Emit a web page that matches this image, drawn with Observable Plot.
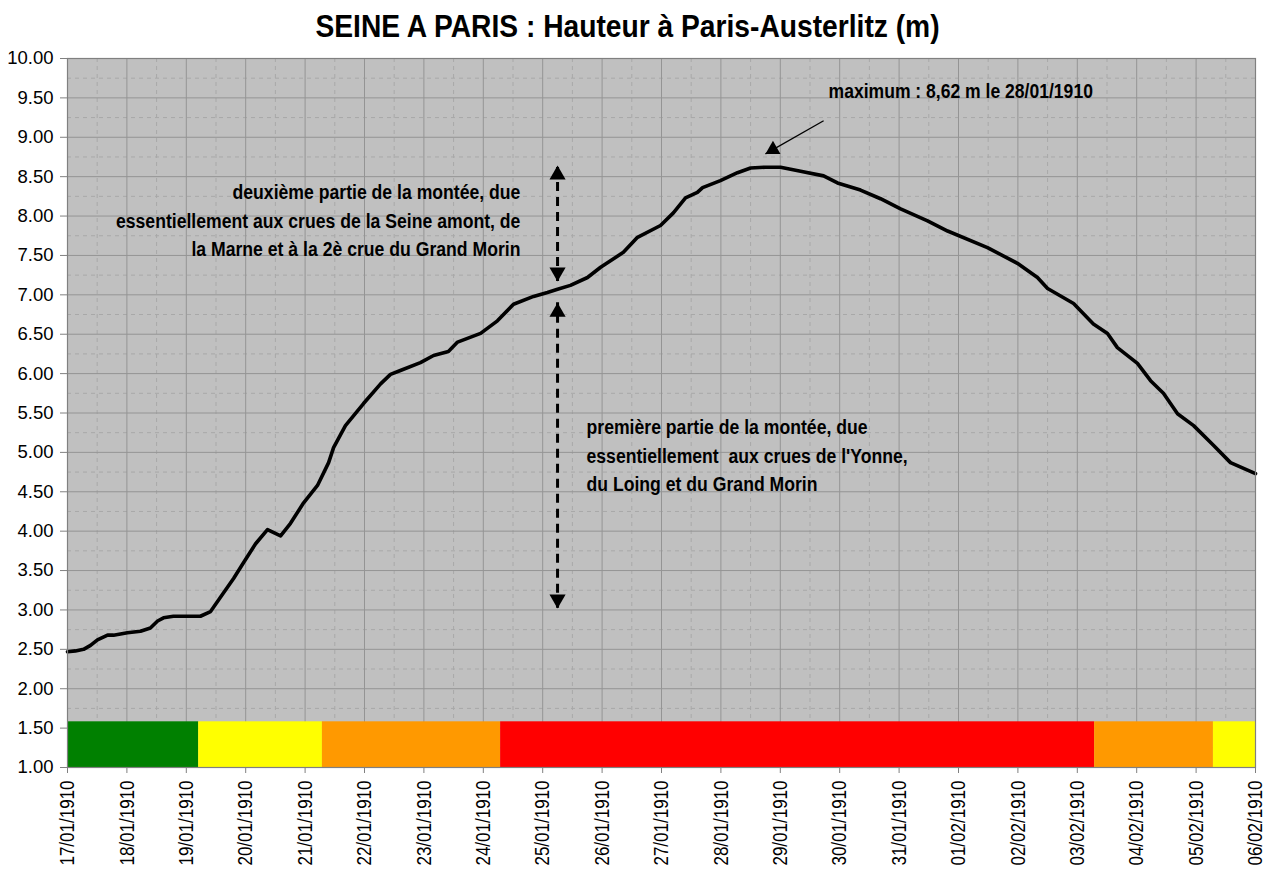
<!DOCTYPE html>
<html>
<head>
<meta charset="utf-8">
<script src="https://cdn.jsdelivr.net/npm/d3@7"></script>
<script src="https://cdn.jsdelivr.net/npm/@observablehq/plot@0.6"></script>
<style>
  body { margin: 0; background: #fff; }
  #chart { width: 1273px; height: 870px; }
</style>
</head>
<body>
<div id="chart"></div>
<script>
// ---- data ----
const chartTitle = "SEINE A PARIS : Hauteur à Paris-Austerlitz (m)";
const startDay = Date.UTC(1910, 0, 17);
// hours since 17/01/1910 00h
const hoursFromStart = [0, 3.2, 6.5, 9.3, 12.1, 16.2, 18.6, 24.2, 29.5, 33.5, 36.4, 38.8, 42.8, 53.7, 57.8, 61.8, 67.1, 71.1, 76.0, 80.8, 86.1, 90.1, 95.4, 101.0, 105.5, 107.5, 112.3, 119.6, 126.5, 130.5, 134.5, 142.6, 147.9, 153.9, 157.6, 166.9, 173.7, 180.2, 188.3, 193.9, 198, 203.2, 210.1, 215.4, 224.6, 230.3, 239.6, 244.8, 249.7, 254.5, 256.6, 263.8, 270.7, 276, 282, 288.1, 296.2, 305.5, 311.1, 320.4, 328.5, 336.6, 347.5, 355.6, 371.7, 383.8, 391.9, 396, 406.5, 414.5, 420.2, 424.2, 432.3, 437.6, 442.8, 448.5, 455, 463, 469.9, 480];
// water height (m)
const heights = [2.47, 2.48, 2.50, 2.55, 2.62, 2.68, 2.68, 2.71, 2.73, 2.77, 2.86, 2.90, 2.92, 2.92, 2.98, 3.16, 3.40, 3.60, 3.84, 4.02, 3.94, 4.10, 4.36, 4.58, 4.87, 5.06, 5.34, 5.62, 5.87, 5.99, 6.04, 6.14, 6.23, 6.28, 6.40, 6.51, 6.67, 6.88, 6.98, 7.03, 7.07, 7.12, 7.22, 7.35, 7.54, 7.73, 7.88, 8.04, 8.23, 8.30, 8.36, 8.45, 8.55, 8.61, 8.62, 8.62, 8.57, 8.51, 8.42, 8.33, 8.22, 8.09, 7.94, 7.81, 7.60, 7.40, 7.22, 7.08, 6.89, 6.63, 6.51, 6.33, 6.13, 5.91, 5.75, 5.49, 5.34, 5.09, 4.87, 4.73];

// vigilance band (hours since start) and its level
const bandStarts = [0, 53, 103, 175, 415, 463];
const bandEnds = [53, 103, 175, 415, 463, 480];
const bandLevels = ["vert", "jaune", "orange", "rouge", "orange", "jaune"];
const bandBottom = 1.0;
const bandTop = 1.58;
const levelNames = ["vert", "jaune", "orange", "rouge"];
const levelColors = ["#008000", "#ffff00", "#ff9900", "#ff0000"];

// y ticks
const yTickValues = [1, 1.5, 2, 2.5, 3, 3.5, 4, 4.5, 5, 5.5, 6, 6.5, 7, 7.5, 8, 8.5, 9, 9.5, 10];

// annotations
const maxLabel = "maximum : 8,62 m le 28/01/1910";
const upperNote = ["deuxième partie de la montée, due", "essentiellement aux crues de la Seine amont, de", "la Marne et à la 2è crue du Grand Morin"];
const lowerNote = ["première partie de la montée, due", "essentiellement  aux crues de l'Yonne,", "du Loing et du Grand Morin"];

// ---- derived ----
const toDate = h => new Date(startDay + h * 3600e3);
const series = hoursFromStart.map((h, i) => ({date: toDate(h), height: heights[i]}));
const bands = bandLevels.map((lvl, i) => ({x1: toDate(bandStarts[i]), x2: toDate(bandEnds[i]), lo: bandBottom, hi: bandTop, level: lvl}));
const dayTicks = d3.range(0, 481, 24).map(toDate);
const halfDays = d3.range(12, 480, 24).map(toDate);
const minorY = yTickValues.slice(0, -1).map(v => v + 0.25);

const arrowX = toDate(198);
const shafts = [{x: arrowX, y1: 7.17, y2: 8.64}, {x: arrowX, y1: 3.02, y2: 6.90}];
const upTips = [{x: arrowX, y: 8.64}, {x: arrowX, y: 6.90}];
const downTips = [{x: arrowX, y: 7.17}, {x: arrowX, y: 3.02}];
const maxPointer = [{x1: toDate(305.5), y1: 9.21, x2: toDate(282), y2: 8.79}];

const plot = Plot.plot({
  width: 1273,
  height: 870,
  marginTop: 58,
  marginBottom: 103,
  marginLeft: 67,
  marginRight: 18,
  style: {fontFamily: "'Liberation Sans', Arial, sans-serif", background: "white", overflow: "visible"},
  x: {type: "utc", domain: [toDate(0), toDate(480)]},
  y: {domain: [1, 10]},
  color: {domain: levelNames, range: levelColors},
  marks: [
    Plot.frame({fill: "#c0c0c0", stroke: "none"}),
    Plot.ruleY(minorY, {stroke: "#a8a8a8", strokeDasharray: "4,4", strokeWidth: 1}),
    Plot.ruleX(halfDays, {stroke: "#a8a8a8", strokeDasharray: "4,4", strokeWidth: 1}),
    Plot.ruleY(yTickValues, {stroke: "#949494", strokeWidth: 1}),
    Plot.ruleX(dayTicks, {stroke: "#949494", strokeWidth: 1}),
    Plot.rect(bands, {x1: "x1", x2: "x2", y1: "lo", y2: "hi", fill: "level", inset: 0}),
    Plot.line(series, {x: "date", y: "height", stroke: "black", strokeWidth: 3.6, strokeLinejoin: "round", strokeLinecap: "round"}),
    // dashed double arrows
    Plot.ruleX(shafts, {x: "x", y1: "y1", y2: "y2", stroke: "black", strokeWidth: 3, strokeDasharray: "9,6"}),
    Plot.dot(upTips, {x: "x", y: "y", symbol: "triangle", r: 6, fill: "black", stroke: "none", dy: 9.3}),
    Plot.dot(downTips, {x: "x", y: "y", symbol: "triangle", r: 6, fill: "black", stroke: "none", rotate: 180, dy: -9.3}),
    // maximum pointer
    Plot.link(maxPointer, {x1: "x1", y1: "y1", x2: "x2", y2: "y2", stroke: "black", strokeWidth: 1.3}),
    Plot.dot(maxPointer, {x: "x2", y: "y2", symbol: "triangle", r: 5.6, fill: "black", stroke: "none", rotate: 240, dx: 7.5, dy: -4.3}),
    // texts
    Plot.text([maxLabel], {x: () => toDate(307.5), y: () => 9.68, text: d => d, textAnchor: "start", lineAnchor: "top", fontSize: 19.5, fontWeight: "bold", fill: "black"}),
    Plot.text([upperNote.join("\n")], {x: () => toDate(183), y: () => 8.47, text: d => d, textAnchor: "end", lineAnchor: "top", lineHeight: 1.39, fontSize: 20.5, fontWeight: "bold", fill: "black"}),
    Plot.text([lowerNote.join("\n")], {x: () => toDate(209.7), y: () => 5.49, text: d => d, textAnchor: "start", lineAnchor: "top", lineHeight: 1.39, fontSize: 20.5, fontWeight: "bold", fill: "black"}),
    Plot.text([chartTitle], {frameAnchor: "top", text: d => d, lineAnchor: "top", dx: -34, dy: -44, fontSize: 31, fontWeight: "bold", fill: "black"}),
    Plot.frame({stroke: "#808080", strokeWidth: 1.2}),
    Plot.axisY({ticks: yTickValues, tickFormat: d3.format(".2f"), tickSize: 7, tickPadding: 7, fontSize: 18.5, stroke: "#808080", fill: "black"}),
    Plot.axisX({ticks: dayTicks, tickFormat: d3.utcFormat("%d/%m/%Y"), tickRotate: -90, tickSize: 6, tickPadding: 7, fontSize: 21, stroke: "#808080", fill: "black"})
  ]
});
document.getElementById("chart").appendChild(plot);

// horizontal condensing of the narrow bold texts, as in the reference
function condenseText(el, f) {
  const t = el.getAttribute("transform");
  if (t && /translate/.test(t)) {
    el.setAttribute("transform", t + ` scale(${f},1)`);
  } else {
    const x = +(el.getAttribute("x") || 0), y = +(el.getAttribute("y") || 0);
    el.setAttribute("transform", `translate(${x},${y}) scale(${f},1)` + (t ? " " + t : ""));
    el.setAttribute("x", 0); el.setAttribute("y", 0);
  }
}
const dateRe = /^\d\d\/\d\d\/1910$/;
plot.querySelectorAll("text").forEach(el => {
  const s = el.textContent;
  if (dateRe.test(s)) condenseText(el, 0.81);
  else if (s === chartTitle) condenseText(el, 0.91);
  else if (s === maxLabel) condenseText(el, 0.90);
  else if (s.includes("partie de la mont")) condenseText(el, 0.86);
});
</script>
</body>
</html>
